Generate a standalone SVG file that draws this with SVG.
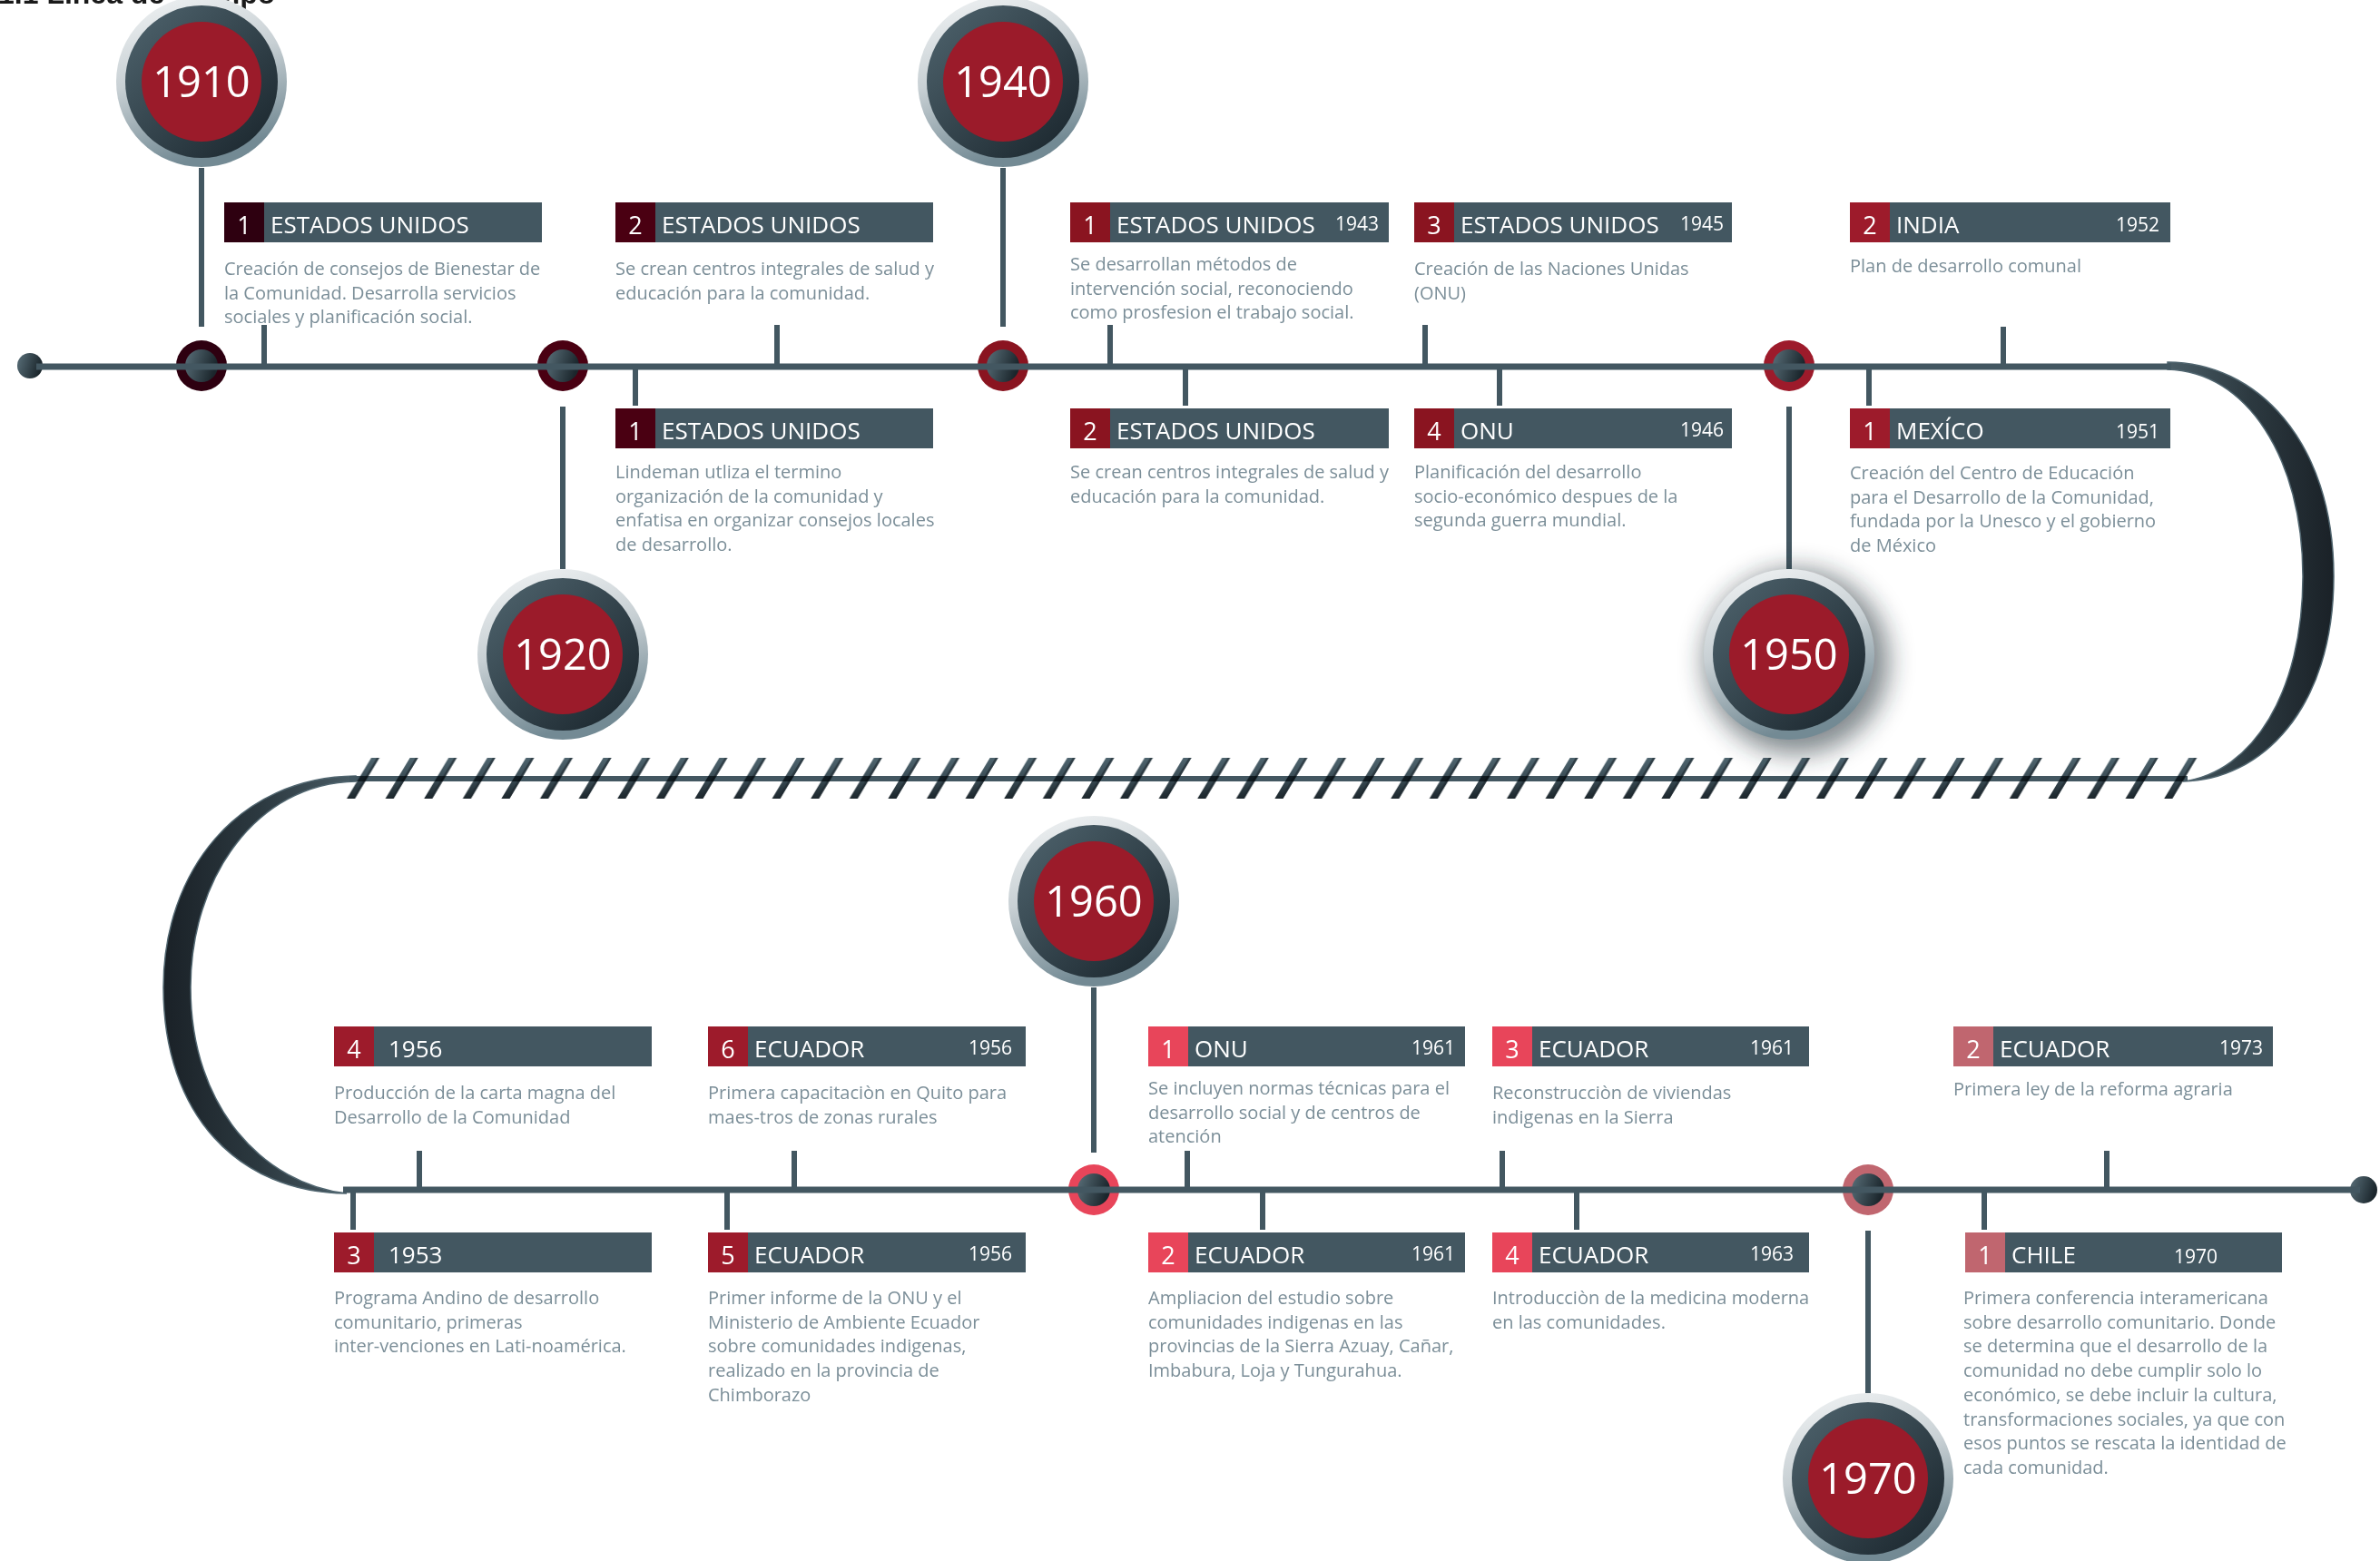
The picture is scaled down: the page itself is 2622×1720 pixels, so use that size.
<svg xmlns="http://www.w3.org/2000/svg" width="2622" height="1720" viewBox="0 0 2622 1720">
<style>
.bar{fill:#435761}
.ln{stroke:#435761;stroke-width:6;fill:none}
.tl{stroke:#435761;stroke-width:7;fill:none}
.t{font-family:"Open Sans","Liberation Sans",sans-serif;fill:#fff}
.n{font-size:27px;text-anchor:middle}
.h{font-size:26px}
.y{font-size:21px;text-anchor:end}
.d{font-family:"Open Sans","Liberation Sans",sans-serif;font-size:20px;fill:#7b8e98}
.yr{font-family:"Open Sans","Liberation Sans",sans-serif;font-size:47px;fill:#fff;text-anchor:middle}
.c1{fill:#2e0010}.c2{fill:#4a0012}.c3{fill:#8a1420}.c4{fill:#9d1b2b}.c5{fill:#e8455a}.c6{fill:#c0666f}
</style>
<defs>
<linearGradient id="go" x1="0" y1="0" x2="0.3" y2="1"><stop offset="0" stop-color="#f3f5f6"/><stop offset=".5" stop-color="#c8d0d4"/><stop offset="1" stop-color="#738a94"/></linearGradient>
<linearGradient id="gd" x1="0" y1="0" x2="1" y2="1"><stop offset="0" stop-color="#50656f"/><stop offset="1" stop-color="#18232a"/></linearGradient>
<linearGradient id="gm" x1="0" y1="0" x2="1" y2="0.3"><stop offset="0" stop-color="#5a707a"/><stop offset="1" stop-color="#1b262c"/></linearGradient>
<linearGradient id="gr" x1="0" y1="0" x2="1" y2="0"><stop offset="0" stop-color="#4a5d66"/><stop offset=".5" stop-color="#2c3940"/><stop offset="1" stop-color="#1a2127"/></linearGradient>
<linearGradient id="gl" x1="1" y1="0" x2="0" y2="0"><stop offset="0" stop-color="#4a5d66"/><stop offset=".5" stop-color="#2c3940"/><stop offset="1" stop-color="#1a2127"/></linearGradient>
<linearGradient id="gh" x1="0" y1="0" x2="0" y2="1"><stop offset="0" stop-color="#4e646e"/><stop offset=".5" stop-color="#3a4c55"/><stop offset="1" stop-color="#1c262c"/></linearGradient>
<filter id="sh" x="-50%" y="-50%" width="200%" height="200%"><feGaussianBlur stdDeviation="14"/></filter>
<pattern id="hp" patternUnits="userSpaceOnUse" x="378.7" y="835" width="42.6" height="45">
<polygon points="30.3,0 39.3,0 12.3,45 3.3,45" fill="url(#gh)"/>
<polygon points="36.3,0 39.3,0 12.3,45 9.3,45" fill="#1c272d" opacity=".6"/>
</pattern>
<g id="yc"><circle r="94" fill="url(#go)"/><circle r="84" fill="url(#gd)"/><circle r="66" fill="#9b1b2a"/></g>
<circle id="mi" r="18" fill="url(#gm)"/>
</defs>
<rect width="2622" height="1720" fill="#fff"/>
<text x="-2" y="4" font-family="Liberation Sans, Arial, sans-serif" font-weight="bold" font-size="32" fill="#1a1a1a">1.1 Línea de Tiempo</text>

<g id="markers">
<circle cx="33" cy="403" r="14" fill="url(#gm)"/>
<circle cx="2604" cy="1311" r="15" fill="url(#gm)"/>
<g transform="translate(222 403)"><circle r="28" class="c1"/><use href="#mi"/></g>
<g transform="translate(620 403)"><circle r="28" class="c2"/><use href="#mi"/></g>
<g transform="translate(1105 403)"><circle r="28" class="c3"/><use href="#mi"/></g>
<g transform="translate(1971 403)"><circle r="28" class="c4"/><use href="#mi"/></g>
<g transform="translate(1205 1311)"><circle r="28" class="c5"/><use href="#mi"/></g>
<g transform="translate(2058 1311)"><circle r="28" class="c6"/><use href="#mi"/></g>
</g>

<g id="connectors">
<path d="M2388 399 C2485 399 2571 485 2571 635 C2571 782 2490 860 2405 861 C2482 851 2537 762 2537 635 C2537 505 2475 409 2388 407 Z" fill="url(#gr)" stroke="#50656f" stroke-width="1.5"/>
<path d="M392 855 C262 856 180 960 180 1088 C180 1228 262 1314 382 1315 C292 1305 210 1222 210 1088 C210 968 282 863 392 861 Z" fill="url(#gl)" stroke="#50656f" stroke-width="1.5"/>
<path class="tl" d="M40 404 H2392"/>
<path class="tl" d="M378 1311 H2600"/>
<path class="ln" stroke-width="5" d="M385 858 H2410"/>
<rect x="378.7" y="835" width="2044.8" height="45" fill="url(#hp)" style="mix-blend-mode:multiply"/>
<path class="ln" d="M222 185 V360 M620 448 V627 M1105 185 V360 M1971 448 V627 M1205 1088 V1270 M2058 1356 V1535"/>
<path class="ln" d="M291 358 V403 M856 358 V403 M1223 358 V403 M1570 358 V403 M2207 360 V403"/>
<path class="ln" d="M700 403 V447 M1306 403 V447 M1652 403 V447 M2059 403 V447"/>
<path class="ln" d="M462 1268 V1311 M875 1268 V1311 M1308 1268 V1311 M1655 1268 V1311 M2321 1268 V1311"/>
<path class="ln" d="M389 1311 V1355 M801 1311 V1355 M1391 1311 V1355 M1737 1311 V1355 M2186 1311 V1355"/>
</g>

<g id="year-1910" transform="translate(222 90)"><use href="#yc"/><text class="yr" y="17">1910</text></g>
<g id="year-1920" transform="translate(620 721)"><use href="#yc"/><text class="yr" y="17">1920</text></g>
<g id="year-1940" transform="translate(1105 90)"><use href="#yc"/><text class="yr" y="17">1940</text></g>
<g id="year-1950" transform="translate(1971 721)"><circle r="102" cx="8" cy="8" fill="#1e2a30" opacity=".55" filter="url(#sh)"/><use href="#yc"/><text class="yr" y="17">1950</text></g>
<g id="year-1960" transform="translate(1205 993)"><use href="#yc"/><text class="yr" y="17">1960</text></g>
<g id="year-1970" transform="translate(2058 1629)"><use href="#yc"/><text class="yr" y="17">1970</text></g>

<g id="card-a" transform="translate(247 223)">
<rect class="bar" width="350" height="44"/><rect class="c1" width="44" height="44"/>
<text class="t n" x="22" y="35">1</text><text class="t h" x="51" y="34">ESTADOS UNIDOS</text>
<text class="d" y="80"><tspan x="0">Creación de consejos de Bienestar de</tspan><tspan x="0" dy="26.7">la Comunidad. Desarrolla servicios</tspan><tspan x="0" dy="26.7">sociales y planificación social.</tspan></text>
</g>
<g id="card-b" transform="translate(678 223)">
<rect class="bar" width="350" height="44"/><rect class="c2" width="44" height="44"/>
<text class="t n" x="22" y="35">2</text><text class="t h" x="51" y="34">ESTADOS UNIDOS</text>
<text class="d" y="80"><tspan x="0">Se crean centros integrales de salud y</tspan><tspan x="0" dy="26.7">educación para la comunidad.</tspan></text>
</g>
<g id="card-c" transform="translate(678 450)">
<rect class="bar" width="350" height="44"/><rect class="c2" width="44" height="44"/>
<text class="t n" x="22" y="35">1</text><text class="t h" x="51" y="34">ESTADOS UNIDOS</text>
<text class="d" y="77"><tspan x="0">Lindeman utliza el termino</tspan><tspan x="0" dy="26.7">organización de la comunidad y</tspan><tspan x="0" dy="26.7">enfatisa en organizar consejos locales</tspan><tspan x="0" dy="26.7">de desarrollo.</tspan></text>
</g>
<g id="card-d" transform="translate(1179 223)">
<rect class="bar" width="351" height="44"/><rect class="c3" width="44" height="44"/>
<text class="t n" x="22" y="35">1</text><text class="t h" x="51" y="34">ESTADOS UNIDOS</text><text class="t y" x="340" y="31">1943</text>
<text class="d" y="75"><tspan x="0">Se desarrollan métodos de</tspan><tspan x="0" dy="26.7">intervención social, reconociendo</tspan><tspan x="0" dy="26.7">como prosfesion el trabajo social.</tspan></text>
</g>
<g id="card-e" transform="translate(1558 223)">
<rect class="bar" width="350" height="44"/><rect class="c3" width="44" height="44"/>
<text class="t n" x="22" y="35">3</text><text class="t h" x="51" y="34">ESTADOS UNIDOS</text><text class="t y" x="341" y="31">1945</text>
<text class="d" y="80"><tspan x="0">Creación de las Naciones Unidas</tspan><tspan x="0" dy="26.7">(ONU)</tspan></text>
</g>
<g id="card-f" transform="translate(1179 450)">
<rect class="bar" width="351" height="44"/><rect class="c3" width="44" height="44"/>
<text class="t n" x="22" y="35">2</text><text class="t h" x="51" y="34">ESTADOS UNIDOS</text>
<text class="d" y="77"><tspan x="0">Se crean centros integrales de salud y</tspan><tspan x="0" dy="26.7">educación para la comunidad.</tspan></text>
</g>
<g id="card-g" transform="translate(1558 450)">
<rect class="bar" width="350" height="44"/><rect class="c3" width="44" height="44"/>
<text class="t n" x="22" y="35">4</text><text class="t h" x="51" y="34">ONU</text><text class="t y" x="341" y="31">1946</text>
<text class="d" y="77"><tspan x="0">Planificación del desarrollo</tspan><tspan x="0" dy="26.7">socio-económico despues de la</tspan><tspan x="0" dy="26.7">segunda guerra mundial.</tspan></text>
</g>
<g id="card-h" transform="translate(2038 223)">
<rect class="bar" width="353" height="44"/><rect class="c4" width="44" height="44"/>
<text class="t n" x="22" y="35">2</text><text class="t h" x="51" y="34">INDIA</text><text class="t y" x="341" y="32">1952</text>
<text class="d" y="77"><tspan x="0">Plan de desarrollo comunal</tspan></text>
</g>
<g id="card-i" transform="translate(2038 450)">
<rect class="bar" width="353" height="44"/><rect class="c4" width="44" height="44"/>
<text class="t n" x="22" y="35">1</text><text class="t h" x="51" y="34">MEXÍCO</text><text class="t y" x="341" y="33">1951</text>
<text class="d" y="78"><tspan x="0">Creación del Centro de Educación</tspan><tspan x="0" dy="26.7">para el Desarrollo de la Comunidad,</tspan><tspan x="0" dy="26.7">fundada por la Unesco y el gobierno</tspan><tspan x="0" dy="26.7">de México</tspan></text>
</g>

<g id="card-j" transform="translate(368 1131)">
<rect class="bar" width="350" height="44"/><rect class="c4" width="44" height="44"/>
<text class="t n" x="22" y="35">4</text><text class="t h" x="60" y="34">1956</text>
<text class="d" y="80"><tspan x="0">Producción de la carta magna del</tspan><tspan x="0" dy="26.7">Desarrollo de la Comunidad</tspan></text>
</g>
<g id="card-k" transform="translate(780 1131)">
<rect class="bar" width="350" height="44"/><rect class="c4" width="44" height="44"/>
<text class="t n" x="22" y="35">6</text><text class="t h" x="51" y="34">ECUADOR</text><text class="t y" x="335" y="31">1956</text>
<text class="d" y="80"><tspan x="0">Primera capacitaciòn en Quito para</tspan><tspan x="0" dy="26.7">maes-tros de zonas rurales</tspan></text>
</g>
<g id="card-l" transform="translate(1265 1131)">
<rect class="bar" width="349" height="44"/><rect class="c5" width="44" height="44"/>
<text class="t n" x="22" y="35">1</text><text class="t h" x="51" y="34">ONU</text><text class="t y" x="338" y="31">1961</text>
<text class="d" y="75"><tspan x="0">Se incluyen normas técnicas para el</tspan><tspan x="0" dy="26.7">desarrollo social y de centros de</tspan><tspan x="0" dy="26.7">atención</tspan></text>
</g>
<g id="card-m" transform="translate(1644 1131)">
<rect class="bar" width="349" height="44"/><rect class="c5" width="44" height="44"/>
<text class="t n" x="22" y="35">3</text><text class="t h" x="51" y="34">ECUADOR</text><text class="t y" x="332" y="31">1961</text>
<text class="d" y="80"><tspan x="0">Reconstrucciòn de viviendas</tspan><tspan x="0" dy="26.7">indigenas en la Sierra</tspan></text>
</g>
<g id="card-n" transform="translate(2152 1131)">
<rect class="bar" width="352" height="44"/><rect class="c6" width="44" height="44"/>
<text class="t n" x="22" y="35">2</text><text class="t h" x="51" y="34">ECUADOR</text><text class="t y" x="341" y="31">1973</text>
<text class="d" y="76"><tspan x="0">Primera ley de la reforma agraria</tspan></text>
</g>
<g id="card-o" transform="translate(368 1358)">
<rect class="bar" width="350" height="44"/><rect class="c4" width="44" height="44"/>
<text class="t n" x="22" y="35">3</text><text class="t h" x="60" y="34">1953</text>
<text class="d" y="79"><tspan x="0">Programa Andino de desarrollo</tspan><tspan x="0" dy="26.7">comunitario, primeras</tspan><tspan x="0" dy="26.7">inter-venciones en Lati-noamérica.</tspan></text>
</g>
<g id="card-p" transform="translate(780 1358)">
<rect class="bar" width="350" height="44"/><rect class="c4" width="44" height="44"/>
<text class="t n" x="22" y="35">5</text><text class="t h" x="51" y="34">ECUADOR</text><text class="t y" x="335" y="31">1956</text>
<text class="d" y="79"><tspan x="0">Primer informe de la ONU y el</tspan><tspan x="0" dy="26.7">Ministerio de Ambiente Ecuador</tspan><tspan x="0" dy="26.7">sobre comunidades indigenas,</tspan><tspan x="0" dy="26.7">realizado en la provincia de</tspan><tspan x="0" dy="26.7">Chimborazo</tspan></text>
</g>
<g id="card-q" transform="translate(1265 1358)">
<rect class="bar" width="349" height="44"/><rect class="c5" width="44" height="44"/>
<text class="t n" x="22" y="35">2</text><text class="t h" x="51" y="34">ECUADOR</text><text class="t y" x="338" y="31">1961</text>
<text class="d" y="79"><tspan x="0">Ampliacion del estudio sobre</tspan><tspan x="0" dy="26.7">comunidades indigenas en las</tspan><tspan x="0" dy="26.7">provincias de la Sierra Azuay, Cañar,</tspan><tspan x="0" dy="26.7">Imbabura, Loja y Tungurahua.</tspan></text>
</g>
<g id="card-r" transform="translate(1644 1358)">
<rect class="bar" width="349" height="44"/><rect class="c5" width="44" height="44"/>
<text class="t n" x="22" y="35">4</text><text class="t h" x="51" y="34">ECUADOR</text><text class="t y" x="332" y="31">1963</text>
<text class="d" y="79"><tspan x="0">Introducciòn de la medicina moderna</tspan><tspan x="0" dy="26.7">en las comunidades.</tspan></text>
</g>
<g id="card-s" transform="translate(2165 1358)">
<rect class="bar" width="349" height="44"/><rect class="c6" width="44" height="44"/>
<text class="t n" x="22" y="35">1</text><text class="t h" x="51" y="34">CHILE</text><text class="t y" x="230" y="34" style="text-anchor:start">1970</text>
<text class="d" y="79"><tspan x="-2">Primera conferencia interamericana</tspan><tspan x="-2" dy="26.7">sobre desarrollo comunitario. Donde</tspan><tspan x="-2" dy="26.7">se determina que el desarrollo de la</tspan><tspan x="-2" dy="26.7">comunidad no debe cumplir solo lo</tspan><tspan x="-2" dy="26.7">económico, se debe incluir la cultura,</tspan><tspan x="-2" dy="26.7">transformaciones sociales, ya que con</tspan><tspan x="-2" dy="26.7">esos puntos se rescata la identidad de</tspan><tspan x="-2" dy="26.7">cada comunidad.</tspan></text>
</g>
</svg>
